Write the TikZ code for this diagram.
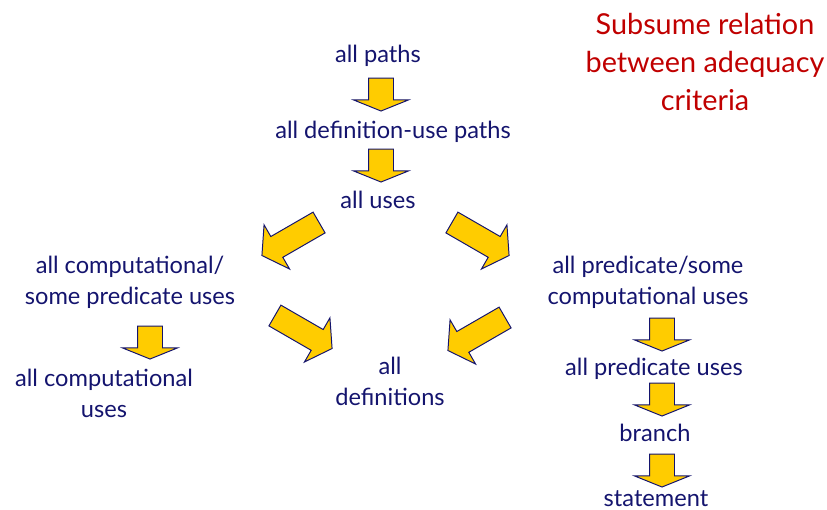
\documentclass[tikz,border=0pt]{standalone}
\usepackage{fontspec}
\setmainfont{Lato}
\usetikzlibrary{shapes.arrows}
\definecolor{navy}{RGB}{20,20,110}
\definecolor{gold}{RGB}{255,204,0}
\definecolor{titlered}{RGB}{192,0,0}
\begin{document}
\begin{tikzpicture}[x=0.025cm, y=0.025cm,
    crit/.style={text=navy, align=center, font=\fontsize{16.8}{22}\selectfont, inner sep=0pt},
    down/.style={single arrow, draw=navy, fill=gold, line width=0.7pt, minimum height=33*0.025cm,
        minimum width=54*0.025cm, inner xsep=0pt, inner ysep=12*0.025cm, single arrow tip angle=136,
        single arrow head extend=15*0.025cm, rotate=-90},
    slant/.style={single arrow, draw=navy, fill=gold, line width=0.7pt, minimum height=66*0.025cm,
        minimum width=50*0.025cm, inner xsep=0pt, inner ysep=11.5*0.025cm, single arrow tip angle=112,
        single arrow head extend=13.5*0.025cm}
]
    \useasboundingbox (0,0) rectangle (827,-510);
    \node[text=titlered, align=center, font=\fontsize{20.5}{27}\selectfont] (title) at (705,-62) {Subsume relation\\between adequacy\\criteria};

    \node[crit] (paths) at (378,-56) {all paths};
    \node[crit] (dupaths) at (393,-132) {all definition-use paths};
    \node[crit] (uses) at (378,-200) {all uses};
    \node[crit] (cpuses) at (130,-282) {all computational/\\some predicate uses};
    \node[crit] (pcuses) at (648,-282) {all predicate/some\\computational uses};
    \node[crit] (defs) at (390,-381) {all\\definitions};
    \node[crit] (cuses) at (104,-393) {all computational\\uses};
    \node[crit] (puses) at (654,-369) {all predicate uses};
    \node[crit] (branch) at (655,-433) {branch};
    \node[crit] (stmt) at (656,-499) {statement};

    \node[down] (a1) at (381,-92) {};
    \node[down] (a2) at (381,-163) {};
    \node[slant, rotate=210] (a3) at (294,-237) {};
    \node[slant, rotate=-30] (a4) at (477,-237) {};
    \node[slant, rotate=-30] (a5) at (300,-330) {};
    \node[slant, rotate=210] (a6) at (480,-332) {};
    \node[down] (a7) at (150,-340) {};
    \node[down] (a8) at (662,-332) {};
    \node[down] (a9) at (662,-397) {};
    \node[down] (a10) at (662,-468) {};
\end{tikzpicture}
\end{document}
